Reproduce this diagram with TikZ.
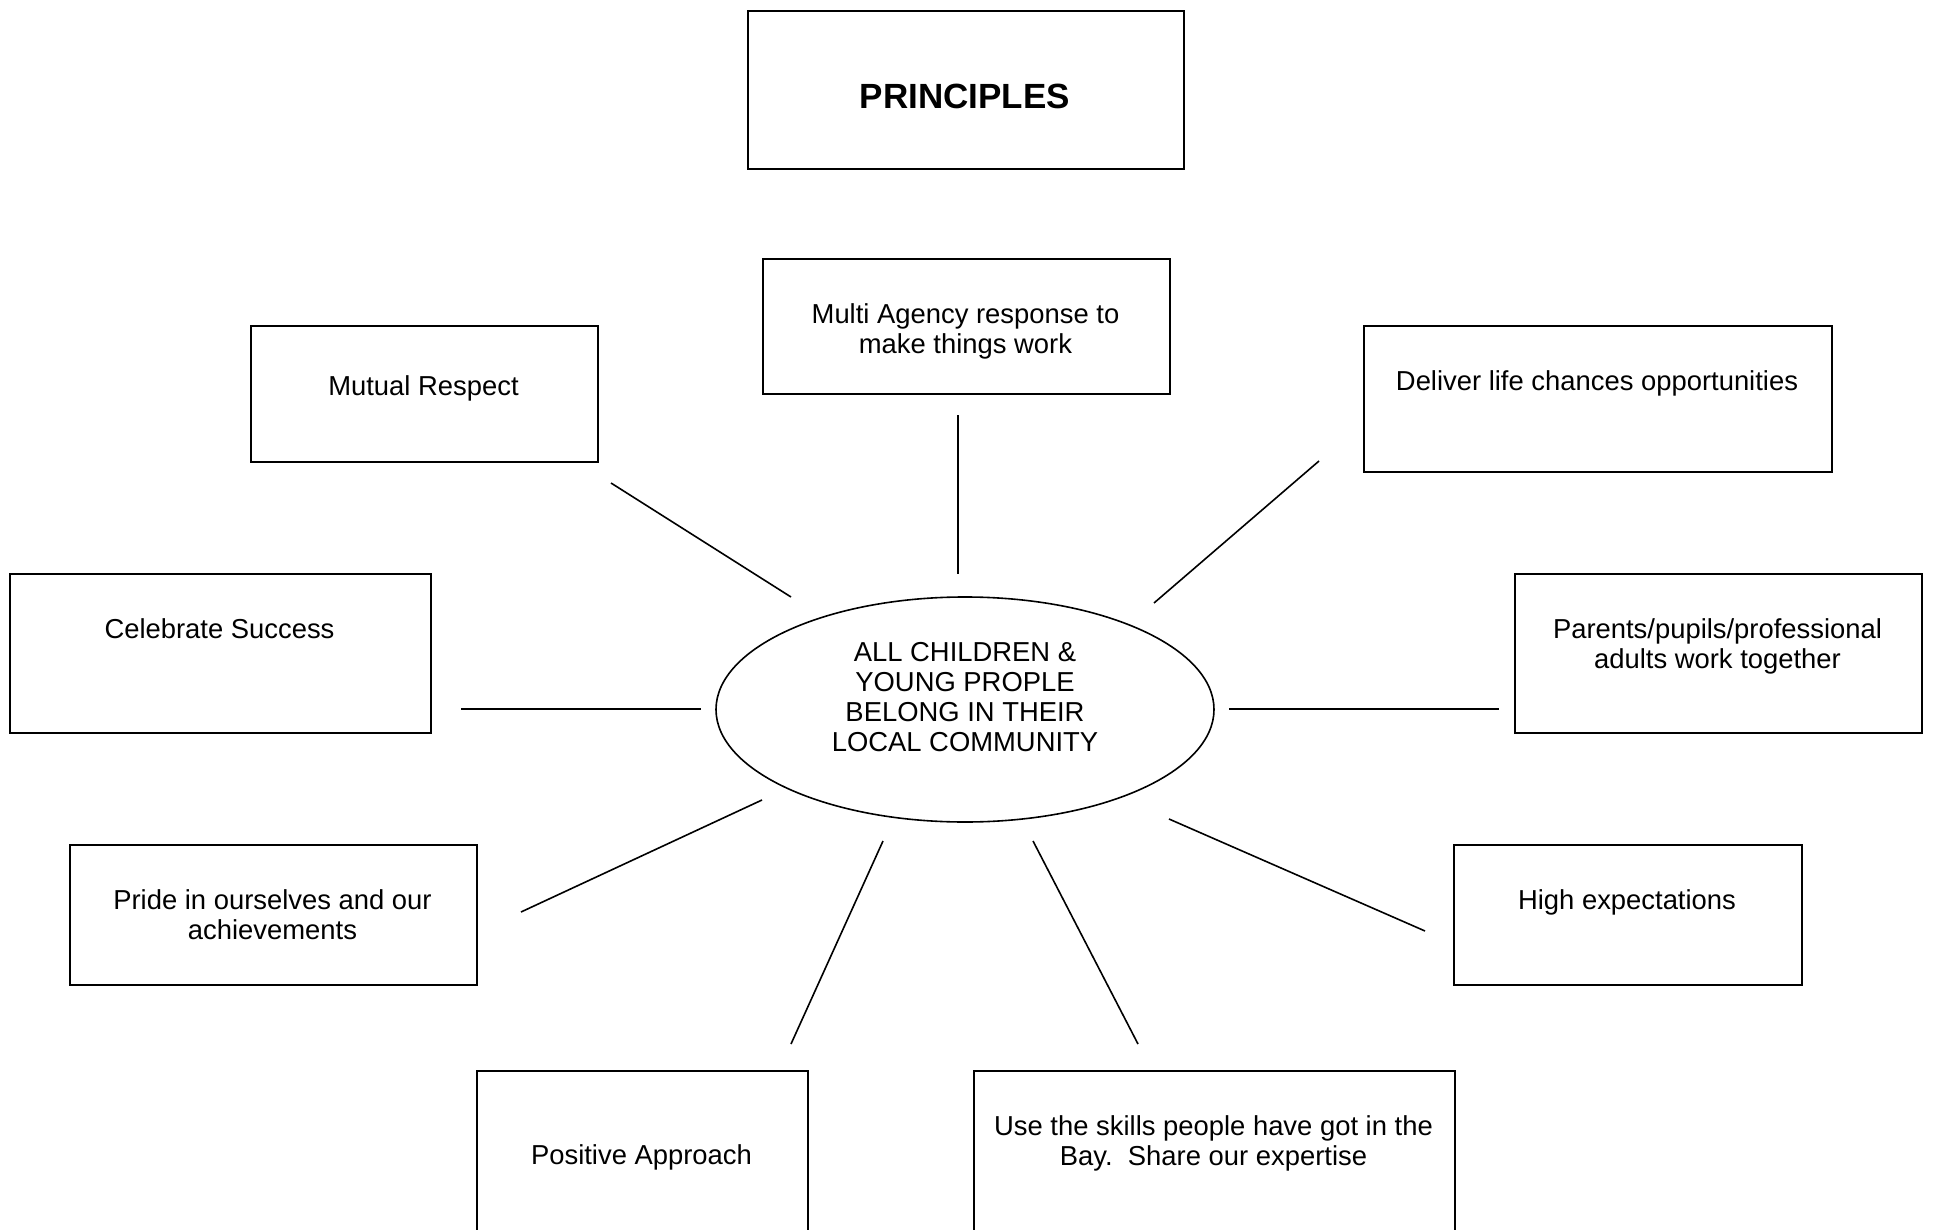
\documentclass[tikz,border=0pt]{standalone}
\usepackage{fontspec}
\setmainfont{Liberation Sans}
\usetikzlibrary{shapes.geometric}
\begin{document}
\begin{tikzpicture}[x=0.5pt,y=-0.5pt,
  box/.style={draw,line width=1pt,anchor=north west,inner sep=0pt,fill=white},
  lbl/.style={font=\fontsize{13.7}{15}\selectfont,align=center,inner sep=0pt},
  conn/.style={line width=0.8pt}]
\useasboundingbox (0,0) rectangle (1933,1230);
% boxes
\node[box,minimum width=218pt,minimum height=79pt] (princ) at (747,10) {};
\node[box,minimum width=203.5pt,minimum height=67.5pt] (multi) at (762,258) {};
\node[box,minimum width=173.5pt,minimum height=68pt] (mutual) at (250,325) {};
\node[box,minimum width=234pt,minimum height=73pt] (deliver) at (1363,325) {};
\node[box,minimum width=210.5pt,minimum height=79.5pt] (celeb) at (9,573) {};
\node[box,minimum width=203.5pt,minimum height=79.5pt] (parents) at (1514,573) {};
\node[box,minimum width=203.5pt,minimum height=70pt] (pride) at (69,844) {};
\node[box,minimum width=174pt,minimum height=70pt] (high) at (1453,844) {};
\node[box,minimum width=165.5pt,minimum height=100pt] (positive) at (476,1070) {};
\node[box,minimum width=240.5pt,minimum height=100pt] (skills) at (973,1070) {};
\node[draw,ellipse,line width=0.8pt,minimum width=249pt,minimum height=112.5pt,inner sep=0pt] (centre) at (965,709.5) {};
% texts
\node[inner sep=0pt,font=\fontsize{17.5}{20}\selectfont\bfseries] (tprinc) at (965,96) {PRINCIPLES};
\node[lbl] (tmulti) at (965.5,331) {Multi Agency response to\\make things work};
\node[lbl] (tmutual) at (423.5,388.5) {Mutual Respect};
\node[lbl] (tdeliver) at (1597,383.5) {Deliver life chances opportunities};
\node[lbl] (tceleb) at (219.5,629) {Celebrate Success};
\node[lbl] (tparents) at (1717.5,646.5) {Parents/pupils/professional\\adults work together};
\node[lbl] (tpride) at (272.5,915) {Pride in ourselves and our\\achievements};
\node[lbl] (thigh) at (1627,902.5) {High expectations};
\node[lbl] (tpositive) at (641.5,1157.5) {Positive Approach};
\node[lbl] (tskills) at (1213.5,1143) {Use the skills people have got in the\\Bay.\ \ Share our expertise};
\node[lbl] (tcentre) at (965,697) {ALL CHILDREN \&\\YOUNG PROPLE\\BELONG IN THEIR\\LOCAL COMMUNITY};
% connector end points
\coordinate (a1) at (958,415);  \coordinate (a2) at (958,574);
\coordinate (b1) at (611,483);  \coordinate (b2) at (791,597);
\coordinate (c1) at (1319,461); \coordinate (c2) at (1154,603);
\coordinate (d1) at (461,709);  \coordinate (d2) at (701,709);
\coordinate (e1) at (1229,709); \coordinate (e2) at (1499,709);
\coordinate (f1) at (762,800);  \coordinate (f2) at (521,912);
\coordinate (g1) at (1169,819); \coordinate (g2) at (1425,931);
\coordinate (h1) at (883,841);  \coordinate (h2) at (791,1044);
\coordinate (i1) at (1033,841); \coordinate (i2) at (1138,1044);
\draw[conn] (a1) -- (a2);
\draw[conn] (b1) -- (b2);
\draw[conn] (c1) -- (c2);
\draw[conn] (d1) -- (d2);
\draw[conn] (e1) -- (e2);
\draw[conn] (f1) -- (f2);
\draw[conn] (g1) -- (g2);
\draw[conn] (h1) -- (h2);
\draw[conn] (i1) -- (i2);
\end{tikzpicture}
\end{document}
